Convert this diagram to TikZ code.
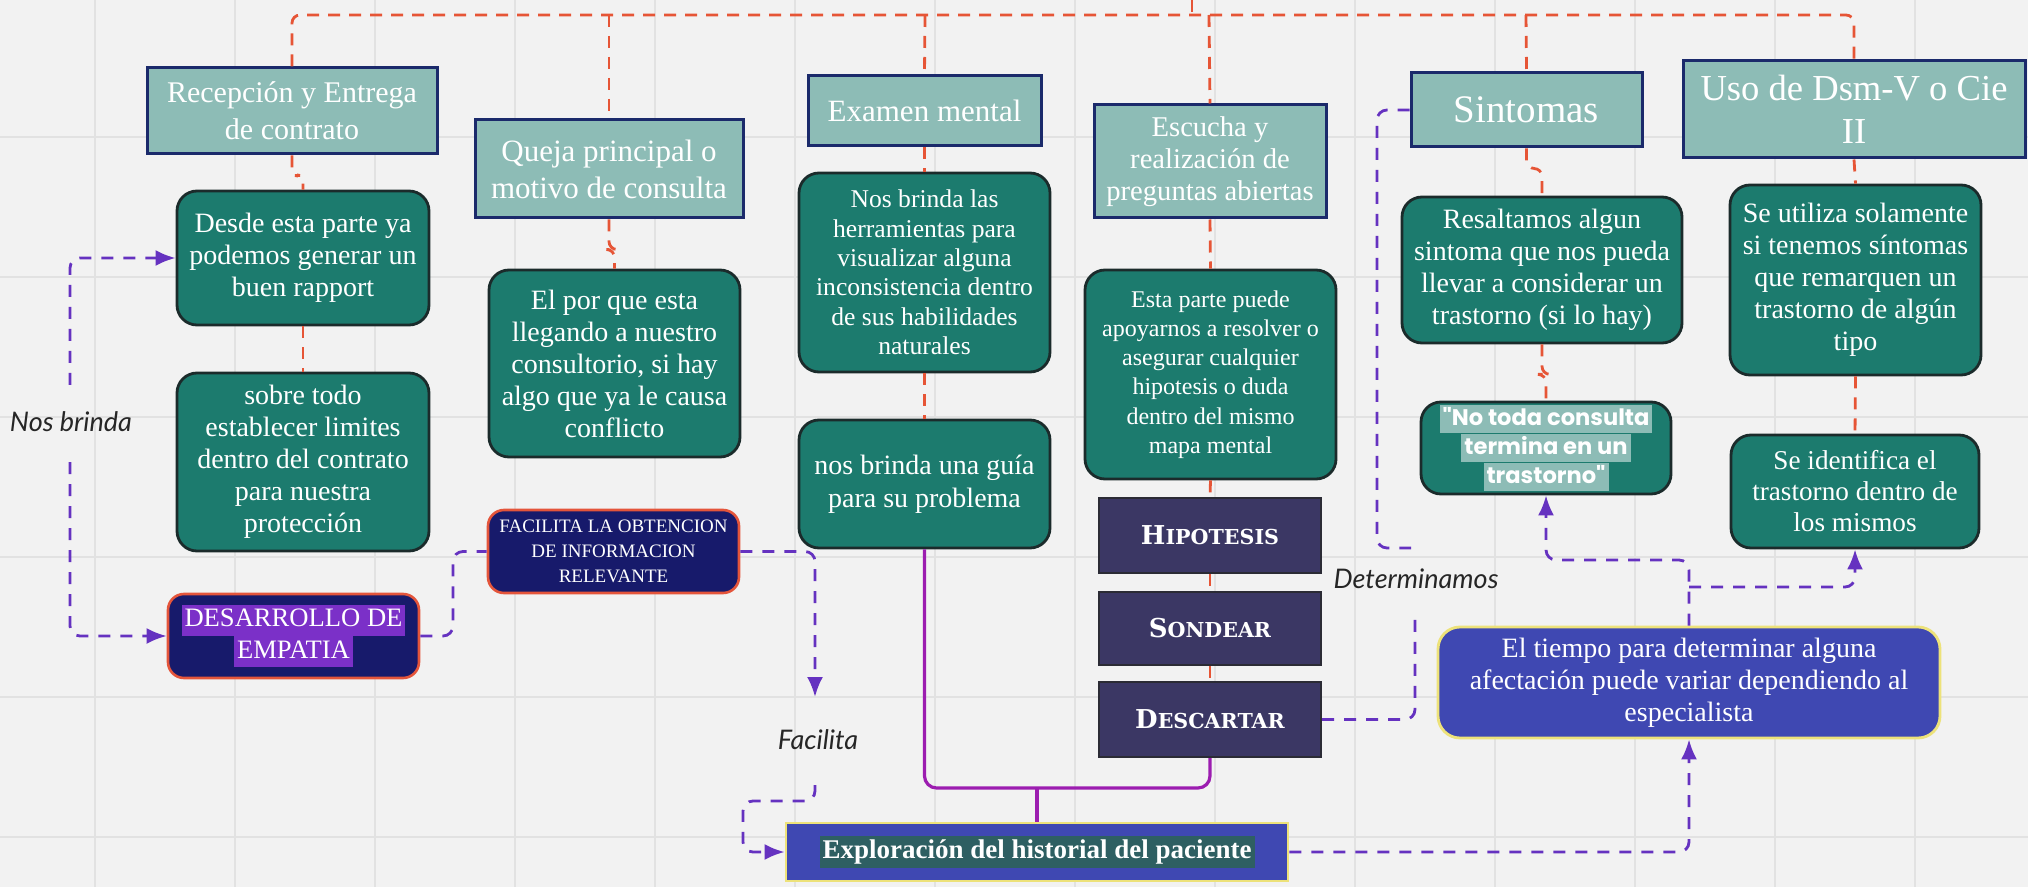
\documentclass[tikz,border=0pt]{standalone}
\usepackage{fontspec}
\setmainfont{Liberation Serif}
\newfontfamily\pop{Poppins}
\newfontfamily\slab{DejaVu Serif}
\newfontfamily\hand{Lato}
\usetikzlibrary{arrows.meta}
\definecolor{bgc}{HTML}{F2F2F2}
\definecolor{gridc}{HTML}{E2E2E2}
\definecolor{hdrfill}{HTML}{8DBCB6}
\definecolor{hdrb}{HTML}{1B2A6B}
\definecolor{grnfill}{HTML}{1C7B6E}
\definecolor{grnb}{HTML}{1B2B2B}
\definecolor{navyfill}{HTML}{171A6B}
\definecolor{redb}{HTML}{E4553B}
\definecolor{plumfill}{HTML}{3B3764}
\definecolor{plumb}{HTML}{2B2B35}
\definecolor{blufill}{HTML}{3F48B2}
\definecolor{yelb}{HTML}{EDE27A}
\definecolor{redl}{HTML}{E65536}
\definecolor{purl}{HTML}{6532C0}
\definecolor{magl}{HTML}{9C1DB0}
\definecolor{hlpurple}{HTML}{7B30C8}
\definecolor{hlteal}{HTML}{8DBCB6}
\definecolor{hldark}{HTML}{2E5F62}
\newcommand\fsz[2]{\fontsize{#1}{#2}\selectfont}
\newcommand\hlt[2]{{\setlength\fboxsep{0pt}\colorbox{#1}{\hspace{1.5pt}\rule[-0.27\baselineskip]{0pt}{0.97\baselineskip}#2\hspace{1.5pt}}}}
\newcommand\mkbox[6]{\node[#1,minimum width={(#4-#2)*0.5pt},minimum height={(#5-#3)*0.5pt}] (#6) at ({(#2+#4)/2},{(#3+#5)/2})}
\tikzset{
  hdr/.style={draw=hdrb, line width=1.5pt, fill=hdrfill, text=white, align=center, inner sep=0pt},
  grn/.style={draw=grnb, line width=1.4pt, fill=grnfill, rounded corners=10pt, text=white, align=center, inner sep=0pt},
  navy/.style={draw=redb, line width=1.3pt, fill=navyfill, rounded corners=8pt, text=white, align=center, inner sep=0pt},
  plum/.style={draw=plumb, line width=1.2pt, fill=plumfill, text=white, inner sep=0pt, font=\slab\bfseries},
  blu/.style={draw=yelb, line width=1.4pt, fill=blufill, rounded corners=11pt, text=white, align=center, inner sep=0pt},
  bluesq/.style={draw=yelb, line width=1.4pt, fill=blufill, text=white, align=center, inner sep=0pt},
  rdash/.style={draw=redl, line width=1.4pt, dash pattern=on 6pt off 4.5pt, rounded corners=4pt},
  pdash/.style={draw=purl, line width=1.4pt, dash pattern=on 6pt off 5pt, rounded corners=5pt},
  parr/.style={pdash, -{Latex[length=10pt,width=8pt]}},
  psolid/.style={draw=magl, line width=1.6pt, rounded corners=6pt},
  hnd/.style={text=black!85, font=\hand\itshape\fsz{13.5}{15}, inner sep=1pt}
}
\begin{document}
\begin{tikzpicture}[x=0.5pt,y=-0.5pt]
\fill[bgc] (0,0) rectangle (2028,887);
\useasboundingbox (0,0) rectangle (2028,887);
\foreach \gx in {95,235,...,2000} \draw[gridc, line width=0.6pt] (\gx,0) -- (\gx,887);
\foreach \gy in {137,277,...,887} \draw[gridc, line width=0.6pt] (0,\gy) -- (2028,\gy);

% header boxes
\mkbox{hdr,font=\fsz{15}{18.5}}{147}{68}{437}{154}{rec}{Recepción y Entrega\\de contrato};
\mkbox{hdr,font=\fsz{15.5}{18.5}}{475}{120}{743}{218}{queja}{Queja principal o\\motivo de consulta};
\mkbox{hdr,font=\fsz{15.5}{18}}{808}{76}{1041}{146}{exam}{Examen mental};
\mkbox{hdr,font=\fsz{14.3}{16}}{1094}{105}{1326}{218}{esc}{Escucha y\\realización de\\preguntas abiertas};
\mkbox{hdr,font=\fsz{19.5}{22}}{1411}{73}{1642}{147}{sint}{Sintomas};
\mkbox{hdr,font=\fsz{18.3}{21.7}}{1683}{61}{2025}{158}{uso}{Uso de Dsm-V o Cie\\II};

% green boxes
\mkbox{grn,font=\fsz{14}{16}}{177}{191}{429}{325}{rap}{Desde esta parte ya\\podemos generar un\\buen rapport};
\mkbox{grn,font=\fsz{14}{16}}{177}{373}{429}{551}{lim}{sobre todo\\establecer limites\\dentro del contrato\\para nuestra\\protección};
\mkbox{grn,font=\fsz{14}{16}}{489}{270}{740}{457}{porq}{El por que esta\\llegando a nuestro\\consultorio, si hay\\algo que ya le causa\\conflicto};
\mkbox{grn,font=\fsz{12.8}{14.7}}{799}{173}{1050}{372}{nbl}{Nos brinda las\\herramientas para\\visualizar alguna\\inconsistencia dentro\\de sus habilidades\\naturales};
\mkbox{grn,font=\fsz{14}{16.5}}{799}{420}{1050}{548}{guia}{nos brinda una guía\\para su problema};
\mkbox{grn,font=\fsz{12}{14.6}}{1085}{270}{1336}{479}{esta}{Esta parte puede\\apoyarnos a resolver o\\asegurar cualquier\\hipotesis o duda\\dentro del mismo\\mapa mental};
\mkbox{grn,font=\fsz{14}{16}}{1402}{197}{1682}{343}{res}{Resaltamos algun\\sintoma que nos pueda\\llevar a considerar un\\trastorno (si lo hay)};
\mkbox{grn,font=\pop\bfseries\fsz{11.3}{14.5}}{1421}{402}{1671}{494}{notoda}{\hlt{hlteal}{"No toda consulta}\\\hlt{hlteal}{termina en un}\\\hlt{hlteal}{trastorno"}};
\mkbox{grn,font=\fsz{14}{16}}{1730}{185}{1981}{375}{util}{Se utiliza solamente\\si tenemos síntomas\\que remarquen un\\trastorno de algún\\tipo};
\mkbox{grn,font=\fsz{13.6}{15.5}}{1731}{435}{1979}{548}{ident}{Se identifica el\\trastorno dentro de\\los mismos};

% navy boxes
\mkbox{navy,font=\fsz{13.3}{15.8}}{168}{594}{419}{678}{des}{\hlt{hlpurple}{DESARROLLO DE}\\\hlt{hlpurple}{EMPATIA}};
\mkbox{navy,font=\fsz{9.5}{12.5}}{488}{510}{739}{593}{fac}{FACILITA LA OBTENCION\\DE INFORMACION\\RELEVANTE};

% plum boxes
\mkbox{plum}{1099}{498}{1321}{573}{hip}{{\fsz{13}{15}H}{\fsz{10.3}{15}IPOTESIS}};
\mkbox{plum}{1099}{592}{1321}{665}{son}{{\fsz{13}{15}S}{\fsz{10.3}{15}ONDEAR}};
\mkbox{plum}{1099}{682}{1321}{757}{desc}{{\fsz{13}{15}D}{\fsz{10.3}{15}ESCARTAR}};

% blue boxes
\mkbox{blu,font=\fsz{14}{16}}{1438}{627}{1940}{738}{tiempo}{El tiempo para determinar alguna\\afectación puede variar dependiendo al\\especialista};
\mkbox{bluesq,font=\bfseries\fsz{13.5}{16}}{786}{823}{1288}{881}{expl}{\hlt{hldark}{Exploración del historial del paciente}};

% labels
\node[hnd] (lnb) at (71,422) {Nos brinda};
\node[hnd] (lfa) at (818,740) {Facilita};
\node[hnd] (lde) at (1416,579) {Determinamos};

% red dashed tree
\coordinate (topsrc) at (1192,0);
\coordinate (topjoin) at (1192,15);
\draw[rdash] (topsrc) -- (topjoin);
\draw[rdash] (rec.north) |- (topjoin) -| (uso.north);
\draw[rdash] (609,15) -- (queja.north);
\draw[rdash] (925,15) -- (exam.north);
\draw[rdash] (1209,15) -- (esc.north);
\draw[rdash] (1526,15) -- (sint.north);
\draw[rdash] (rec.south) -- ++(0,20) -| (rap.north);
\draw[rdash] (rap.south) -- (lim.north);
\draw[rdash] (queja.south) -- ++(0,30) -| (porq.north);
\draw[rdash] (exam.south) -- (nbl.north);
\draw[rdash] (nbl.south) -- (guia.north);
\draw[rdash] (esc.south) -- (esta.north);
\draw[rdash] (esta.south) -- (hip.north);
\draw[rdash] (hip.south) -- (son.north);
\draw[rdash] (son.south) -- (desc.north);
\draw[rdash] (sint.south) -- ++(0,20) -| (res.north);
\draw[rdash] (res.south) -- ++(0,30) -| (notoda.north);
\draw[rdash] (uso.south) -- (util.north);
\draw[rdash] (util.south) -- (ident.north);

% purple solid bracket
\coordinate (brk) at (1037,788);
\draw[psolid] (guia.south) |- (brk) -| (desc.south);
\draw[psolid] (expl.north) -- (brk);

% purple dashed connectors
\coordinate (nbtop) at (70,385);
\coordinate (nbbot) at (70,462);
\draw[parr] (nbtop) |- (rap.west);
\draw[parr] (nbbot) |- (des.west);
\draw[pdash] (des.east) -| (453,600) |- (fac.west);
\coordinate (facarr) at (815,697);
\draw[parr] (fac.east) -| (facarr);
\coordinate (facsrc) at (815,785);
\draw[parr] (facsrc) |- (743,801) |- (expl.west);
\draw[parr] (expl.east) -| (tiempo.south);
\coordinate (tup) at (1689,560);
\draw[parr] (tiempo.north) -- (tup) -| (notoda.south);
\coordinate (tbr) at (1689,587);
\draw[parr] (tbr) -| (ident.south);
\coordinate (detup) at (1411,548);
\draw[pdash] (sint.west) -| (1377,548) -- (detup);
\coordinate (detdn) at (1415,615);
\draw[pdash] (desc.east) -| (detdn);
\end{tikzpicture}
\end{document}
